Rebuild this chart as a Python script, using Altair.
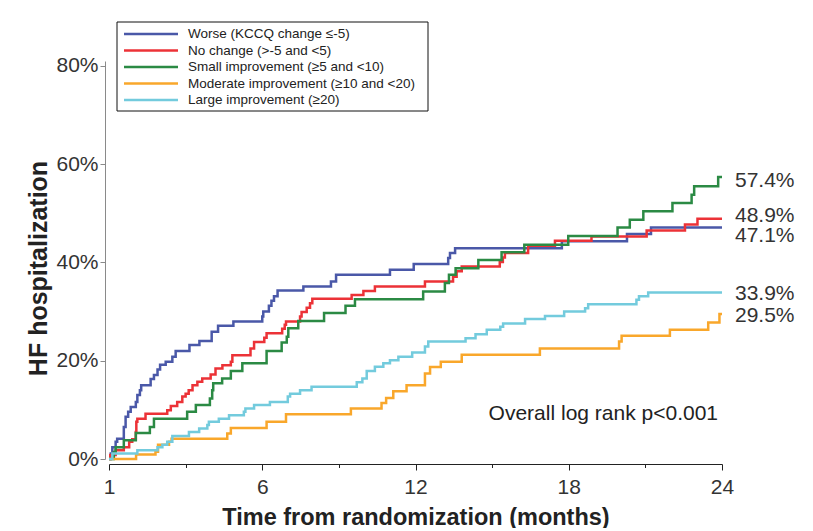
import altair as alt
import pandas as pd

# ---------------- data ----------------
groups = [
    "Worse (KCCQ change ≤-5)",
    "No change (>-5 and <5)",
    "Small improvement (≥5 and <10)",
    "Moderate improvement (≥10 and <20)",
    "Large improvement (≥20)",
]
colors = ["#4a58a8", "#ec3237", "#2b8a44", "#f9a72b", "#73cbdd"]

worse_t = [0, 0.07, 0.13, 0.26, 0.32, 0.58, 0.65, 0.75, 0.85, 1.05, 1.11, 1.21, 1.26, 1.63, 1.76,
           1.9, 2.0, 2.22, 2.48, 2.61, 3.15, 3.54, 4.02, 4.27, 4.87, 6.0, 6.04, 6.26, 6.36, 6.46,
           6.6, 7.61, 8.69, 8.89, 11.0, 11.93, 13.28, 13.35, 13.55, 17.73, 20.28, 21.22, 24]
worse_v = [0, 1.1, 2.4, 3.5, 4.1, 6.5, 8.6, 9.6, 10.6, 11.6, 13.0, 14.0, 15.0, 16.3, 17.1,
           18.2, 19.2, 19.8, 20.8, 22.0, 23.2, 24.0, 25.9, 27.1, 28.0, 29.0, 30.0, 31.2, 32.2, 33.1,
           34.3, 35.1, 36.1, 37.5, 38.5, 39.7, 40.9, 41.9, 42.9, 44.3, 45.8, 47.1, 47.1]

nochange_t = [0, 0.05, 0.26, 0.58, 0.79, 0.91, 1.05, 1.07, 1.11, 1.43, 2.28, 2.42, 2.67, 2.87, 3.0,
              3.12, 3.27, 3.46, 3.65, 3.98, 4.17, 4.44, 4.77, 4.83, 5.54, 5.68, 6.08, 6.17, 6.78, 6.88,
              6.93, 7.48, 7.54, 7.74, 7.87, 7.96, 9.5, 9.96, 10.41, 12.37, 13.47, 13.61, 13.81, 15.3,
              15.42, 15.5, 16.41, 17.46, 18.89, 21.05, 22.55, 23.04, 24]
nochange_v = [0, 0.8, 1.8, 2.4, 3.5, 4.0, 5.5, 7.6, 8.2, 9.2, 9.9, 10.8, 11.6, 12.7, 13.3,
              14.0, 15.0, 15.7, 16.4, 17.2, 18.4, 19.1, 19.8, 21.1, 22.5, 23.8, 24.7, 25.6, 26.5, 27.3,
              28.0, 29.0, 29.9, 30.8, 31.7, 32.6, 33.4, 34.2, 35.1, 36.1, 37.1, 38.2, 39.2, 40.1,
              41.0, 41.9, 43.4, 44.4, 45.3, 46.5, 47.7, 48.9, 48.9]

small_t = [0, 0.19, 0.26, 0.58, 1.05, 1.6, 1.76, 3.06, 3.4, 3.95, 4.04, 4.08, 4.43, 4.77, 5.22,
           6.17, 6.76, 6.96, 7.02, 7.41, 8.42, 9.26, 9.63, 12.3, 13.15, 13.31, 13.57, 14.46, 15.37,
           16.26, 17.98, 19.91, 20.39, 20.92, 22.06, 22.81, 22.91, 23.85, 24]
small_v = [0, 1.4, 2.4, 3.8, 5.3, 6.5, 8.2, 9.6, 11.0, 12.3, 14.0, 15.4, 16.4, 17.9, 19.5,
           22.0, 23.7, 24.9, 26.6, 28.1, 29.7, 31.2, 32.5, 34.1, 35.8, 37.5, 38.8, 40.5, 42.1,
           43.6, 45.4, 47.1, 48.7, 50.4, 52.1, 53.8, 55.5, 57.4, 57.4]

moderate_t = [0, 1.06, 1.82, 1.92, 2.35, 2.45, 4.63, 4.77, 6.17, 6.93, 9.47, 10.67, 10.85, 11.13,
              11.65, 12.37, 12.57, 12.99, 13.81, 16.87, 19.97, 20.07, 21.96, 23.46, 23.9, 24]
moderate_v = [0, 0.9, 1.5, 2.9, 3.5, 4.1, 5.2, 6.3, 7.6, 9.1, 10.3, 11.4, 12.4, 13.8,
              15.0, 17.4, 18.7, 19.8, 21.2, 22.5, 23.9, 25.1, 26.3, 27.8, 29.5, 29.5]

large_t = [0, 0.13, 1.11, 1.9, 2.09, 2.28, 2.48, 3.13, 3.53, 3.85, 3.91, 4.3, 4.7, 5.28, 5.34,
           5.68, 6.3, 7.0, 7.09, 7.48, 7.93, 9.7, 9.92, 10.09, 10.41, 10.74, 11.0, 11.33, 11.87,
           12.37, 12.5, 13.96, 14.35, 14.79, 15.32, 15.43, 16.29, 17.07, 17.82, 18.64, 18.76,
           20.65, 20.75, 21.11, 24]
large_v = [0, 1.1, 1.8, 2.4, 2.9, 3.5, 4.7, 5.5, 6.2, 6.9, 7.6, 8.2, 8.9, 9.6, 10.3,
           11.0, 11.6, 12.7, 13.3, 14.0, 14.7, 15.6, 16.4, 17.9, 18.8, 19.5, 20.1, 20.8, 21.7,
           22.9, 23.9, 24.6, 25.4, 26.3, 26.9, 27.6, 28.5, 29.1, 30.0, 30.7, 31.5,
           32.4, 33.1, 33.9, 33.9]

end_values = [47.1, 48.9, 57.4, 29.5, 33.9]
end_labels = ["47.1%", "48.9%", "57.4%", "29.5%", "33.9%"]

y_ticks = [0, 20, 40, 60, 80]
x_ticks = [0, 6, 12, 18, 24]
x_tick_labels = ["1", "6", "12", "18", "24"]
x_minor_ticks = [3, 9, 15, 21]

annotation = "Overall log rank p<0.001"
annotation_at = {"month": 24, "pct": 9.2}

# ---------------- build tables ----------------
series_t = [worse_t, nochange_t, small_t, moderate_t, large_t]
series_v = [worse_v, nochange_v, small_v, moderate_v, large_v]
rows = []
for g, ts, vs in zip(groups, series_t, series_v):
    for t, v in zip(ts, vs):
        rows.append({"group": g, "month": t, "pct": v})
curves = pd.DataFrame(rows)

ends = pd.DataFrame({"group": groups, "month": [t[-1] for t in series_t],
                     "pct": end_values, "label": end_labels})
legend_df = pd.DataFrame({"group": groups, "row": list(range(len(groups)))})

FONT = "Liberation Sans"
Y_DOMAIN = [0, 81]

label_expr = "''"
for v, lab in reversed(list(zip(x_ticks, x_tick_labels))):
    label_expr = f"datum.value == {v} ? '{lab}' : ({label_expr})"
major_test = "indexof([" + ",".join(str(v) for v in x_ticks) + "], datum.value) >= 0"

color_scale = alt.Scale(domain=groups, range=colors)

x_enc = alt.X(
    "month:Q",
    scale=alt.Scale(domain=[0, 24], nice=False, zero=False),
    axis=alt.Axis(
        values=sorted(x_ticks + x_minor_ticks),
        labelExpr=label_expr,
        tickSize={"condition": {"test": major_test, "value": 6}, "value": 3.5},
        offset=5, grid=False,
        domainColor="#222", tickColor="#222", domainWidth=1, tickWidth=1,
        labelFont=FONT, labelFontSize=21, labelColor="#333", labelPadding=6,
        labelFlush=False, labelOverlap=False,
        title="Time from randomization (months)", titleFont=FONT, titleFontSize=23.5,
        titleFontWeight="bold", titleColor="#222", titlePadding=8,
    ),
)

y_enc = alt.Y(
    "pct:Q",
    scale=alt.Scale(domain=Y_DOMAIN, nice=False),
    axis=alt.Axis(
        values=y_ticks, labelExpr="datum.value + '%'",
        offset=4, grid=False,
        domainColor="#8a8a8a", tickColor="#8a8a8a", tickSize=5,
        labelFont=FONT, labelFontSize=21, labelColor="#333", labelPadding=2,
        title="HF hospitalization", titleFont=FONT, titleFontSize=25,
        titleFontWeight="bold", titleColor="#222", titlePadding=4, titleY=207,
    ),
)

y_plain = alt.Y("pct:Q", scale=alt.Scale(domain=Y_DOMAIN, nice=False), axis=None)

lines = alt.Chart(curves).mark_line(interpolate="step-after", strokeWidth=2.5).encode(
    x=x_enc, y=y_enc,
    color=alt.Color("group:N", scale=color_scale, legend=None),
    detail="group:N",
)

end_dy = {"47.1%": 8, "48.9%": -3, "57.4%": 4, "29.5%": 2, "33.9%": 2}
end_layers = []
for lab in end_labels:
    end_layers.append(
        alt.Chart(ends).transform_filter(alt.datum.label == lab)
        .mark_text(align="left", baseline="middle", dx=13, dy=end_dy[lab],
                   font=FONT, fontSize=21, color="#333")
        .encode(x=alt.X("month:Q", scale=alt.Scale(domain=[0, 24], nice=False)),
                y=y_plain, text="label:N")
    )

annot = alt.Chart(pd.DataFrame([{**annotation_at, "text": annotation}])).mark_text(
    align="right", baseline="middle", dx=-4, font=FONT, fontSize=21, color="#222"
).encode(x=alt.X("month:Q", scale=alt.Scale(domain=[0, 24], nice=False)),
         y=y_plain, text="text:N")

# legend (drawn from the group list)
legend_y = alt.Y("row:Q", scale=alt.Scale(domain=[0, 4], range=[-27, 39]), axis=None)
legend_box = alt.Chart(pd.DataFrame({"a": [0]})).mark_rect(
    fill="white", stroke="#111", strokeWidth=1
).encode(x=alt.value(8), x2=alt.value(319), y=alt.value(-39), y2=alt.value(50))
legend_lines = alt.Chart(legend_df).mark_rule(strokeWidth=2.5).encode(
    x=alt.value(15), x2=alt.value(69), y=legend_y,
    color=alt.Color("group:N", scale=color_scale, legend=None),
)
legend_text = alt.Chart(legend_df).mark_text(
    align="left", baseline="middle", font=FONT, fontSize=13.5, color="#222"
).encode(x=alt.value(79), y=legend_y, text="group:N")

chart = alt.layer(
    lines, *end_layers, annot, legend_box, legend_lines, legend_text
).resolve_scale(y="independent").properties(
    width=613, height=398,
    autosize=alt.AutoSizeParams(type="none"),
    padding={"left": 101, "top": 53, "right": 83, "bottom": 69},
).configure(background="white").configure_view(stroke=None)

chart.save("out.html", embed_options={"renderer": "svg", "actions": False})
